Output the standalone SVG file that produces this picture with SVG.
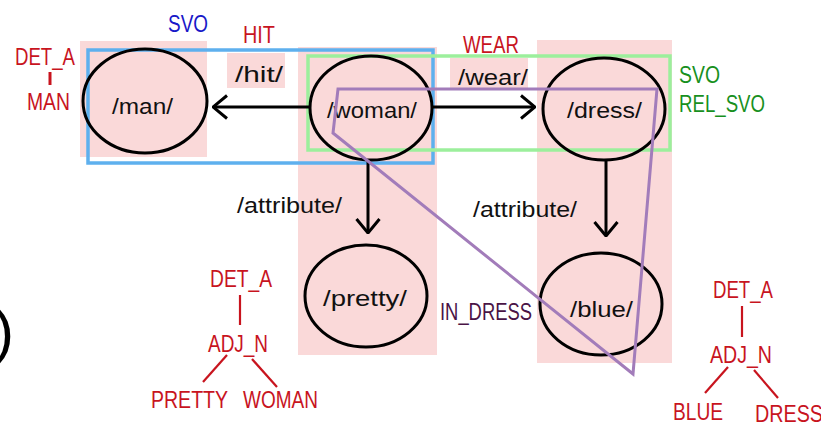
<svg xmlns="http://www.w3.org/2000/svg" width="821" height="426" viewBox="0 0 821 426">
<defs>
<style>
.bg{fill:#fad9d9;stroke:none}
.node{fill:none;stroke:#000;stroke-width:3}
.lbl{font-family:"Liberation Sans",Arial,sans-serif;font-size:22px;fill:#111}
.ann{font-family:"Liberation Sans",Arial,sans-serif;font-size:24px}
.red{fill:#c8141e}
.edge{stroke:#000;stroke-width:3;fill:none}
.tree{stroke:#c8141e;stroke-width:2.2;fill:none}
</style>
<marker id="arr" markerUnits="userSpaceOnUse" viewBox="0 0 16 26" refX="15" refY="13" markerWidth="16" markerHeight="26" orient="auto">
<path d="M1,1.5 L15,13 L1,24.5" fill="none" stroke="#000" stroke-width="3"/>
</marker>
</defs>
<rect width="821" height="426" fill="#fff"/>
<!-- pink backgrounds -->
<rect class="bg" x="80" y="41" width="127" height="116"/>
<rect class="bg" x="227" y="53" width="58" height="35"/>
<rect class="bg" x="298" y="47" width="139" height="308"/>
<rect class="bg" x="450" y="58" width="78" height="30"/>
<rect class="bg" x="537" y="40" width="135" height="323"/>
<!-- group frames -->
<rect x="88" y="50" width="345" height="113" fill="none" stroke="#5eb0ee" stroke-width="3.5"/>
<rect x="308" y="56" width="362" height="94" fill="none" stroke="#9cef9c" stroke-width="3.5"/>
<g id="connectors">
<line class="edge" x1="310" y1="107" x2="213" y2="107" marker-end="url(#arr)"/>
<line class="edge" x1="432" y1="107" x2="535" y2="107" marker-end="url(#arr)"/>
<line class="edge" x1="368" y1="160" x2="368" y2="233" marker-end="url(#arr)"/>
<line class="edge" x1="606" y1="160" x2="606" y2="236" marker-end="url(#arr)"/>
<text class="lbl" x="235" y="82" textLength="48" lengthAdjust="spacingAndGlyphs">/hit/</text>
<text class="lbl" x="458" y="85" textLength="70" lengthAdjust="spacingAndGlyphs">/wear/</text>
<text class="lbl" x="237" y="213" textLength="105" lengthAdjust="spacingAndGlyphs">/attribute/</text>
<text class="lbl" x="473" y="217" textLength="104" lengthAdjust="spacingAndGlyphs">/attribute/</text>
</g>
<g id="node-man">
<ellipse class="node" cx="145" cy="101" rx="62" ry="52"/>
<text class="lbl" x="112" y="114" textLength="61" lengthAdjust="spacingAndGlyphs">/man/</text>
</g>
<g id="node-woman">
<ellipse class="node" cx="371" cy="108" rx="61" ry="52"/>
<text class="lbl" x="327" y="118" textLength="90" lengthAdjust="spacingAndGlyphs">/woman/</text>
</g>
<g id="node-dress">
<ellipse class="node" cx="604" cy="109" rx="61" ry="51"/>
<text class="lbl" x="567" y="118" textLength="75" lengthAdjust="spacingAndGlyphs">/dress/</text>
</g>
<g id="node-pretty">
<ellipse class="node" cx="366" cy="296" rx="61" ry="51"/>
<text class="lbl" x="323" y="306" textLength="84" lengthAdjust="spacingAndGlyphs">/pretty/</text>
</g>
<g id="node-blue">
<ellipse class="node" cx="601" cy="304" rx="61" ry="51"/>
<text class="lbl" x="570" y="317" textLength="63" lengthAdjust="spacingAndGlyphs">/blue/</text>
</g>
<!-- purple region -->
<polygon points="338,89 657,89 633,374 333,133" fill="none" stroke="#a27cba" stroke-width="3"/>
<g id="annotations">
<text class="ann" x="168" y="32" textLength="40" lengthAdjust="spacingAndGlyphs" fill="#1818c8">SVO</text>
<text class="ann red" x="243" y="43" textLength="32" lengthAdjust="spacingAndGlyphs">HIT</text>
<text class="ann red" x="15" y="65" textLength="60" lengthAdjust="spacingAndGlyphs">DET_A</text>
<line class="tree" x1="50" y1="72" x2="50" y2="85" style="stroke-width:3"/>
<text class="ann red" x="27" y="110" textLength="43" lengthAdjust="spacingAndGlyphs">MAN</text>
<text class="ann red" x="463" y="53" textLength="56" lengthAdjust="spacingAndGlyphs">WEAR</text>
<text class="ann" x="679" y="83" textLength="41" lengthAdjust="spacingAndGlyphs" fill="#18901e">SVO</text>
<text class="ann" x="679" y="112" textLength="86" lengthAdjust="spacingAndGlyphs" fill="#18901e">REL_SVO</text>
<text class="ann" x="440" y="320" textLength="92" lengthAdjust="spacingAndGlyphs" fill="#4a1446">IN_DRESS</text>
<text class="ann red" x="210" y="287" textLength="62" lengthAdjust="spacingAndGlyphs">DET_A</text>
<line class="tree" x1="240" y1="295" x2="240" y2="325"/>
<text class="ann red" x="208" y="352" textLength="60" lengthAdjust="spacingAndGlyphs">ADJ_N</text>
<line class="tree" x1="227" y1="355" x2="203" y2="382"/>
<line class="tree" x1="252" y1="359" x2="277" y2="387"/>
<text class="ann red" x="151" y="408" textLength="77" lengthAdjust="spacingAndGlyphs">PRETTY</text>
<text class="ann red" x="243" y="408" textLength="75" lengthAdjust="spacingAndGlyphs">WOMAN</text>
<text class="ann red" x="713" y="298" textLength="60" lengthAdjust="spacingAndGlyphs">DET_A</text>
<line class="tree" x1="742" y1="306" x2="742" y2="337"/>
<text class="ann red" x="710" y="363" textLength="62" lengthAdjust="spacingAndGlyphs">ADJ_N</text>
<line class="tree" x1="728" y1="367" x2="705" y2="393"/>
<line class="tree" x1="754" y1="370" x2="778" y2="398"/>
<text class="ann red" x="673" y="420" textLength="50" lengthAdjust="spacingAndGlyphs">BLUE</text>
<text class="ann red" x="755" y="422" textLength="68" lengthAdjust="spacingAndGlyphs">DRESS</text>
<text x="-6" y="352" style="font-family:'Liberation Sans',Arial,sans-serif;font-size:60px;fill:#000">)</text>
</g>
</svg>
